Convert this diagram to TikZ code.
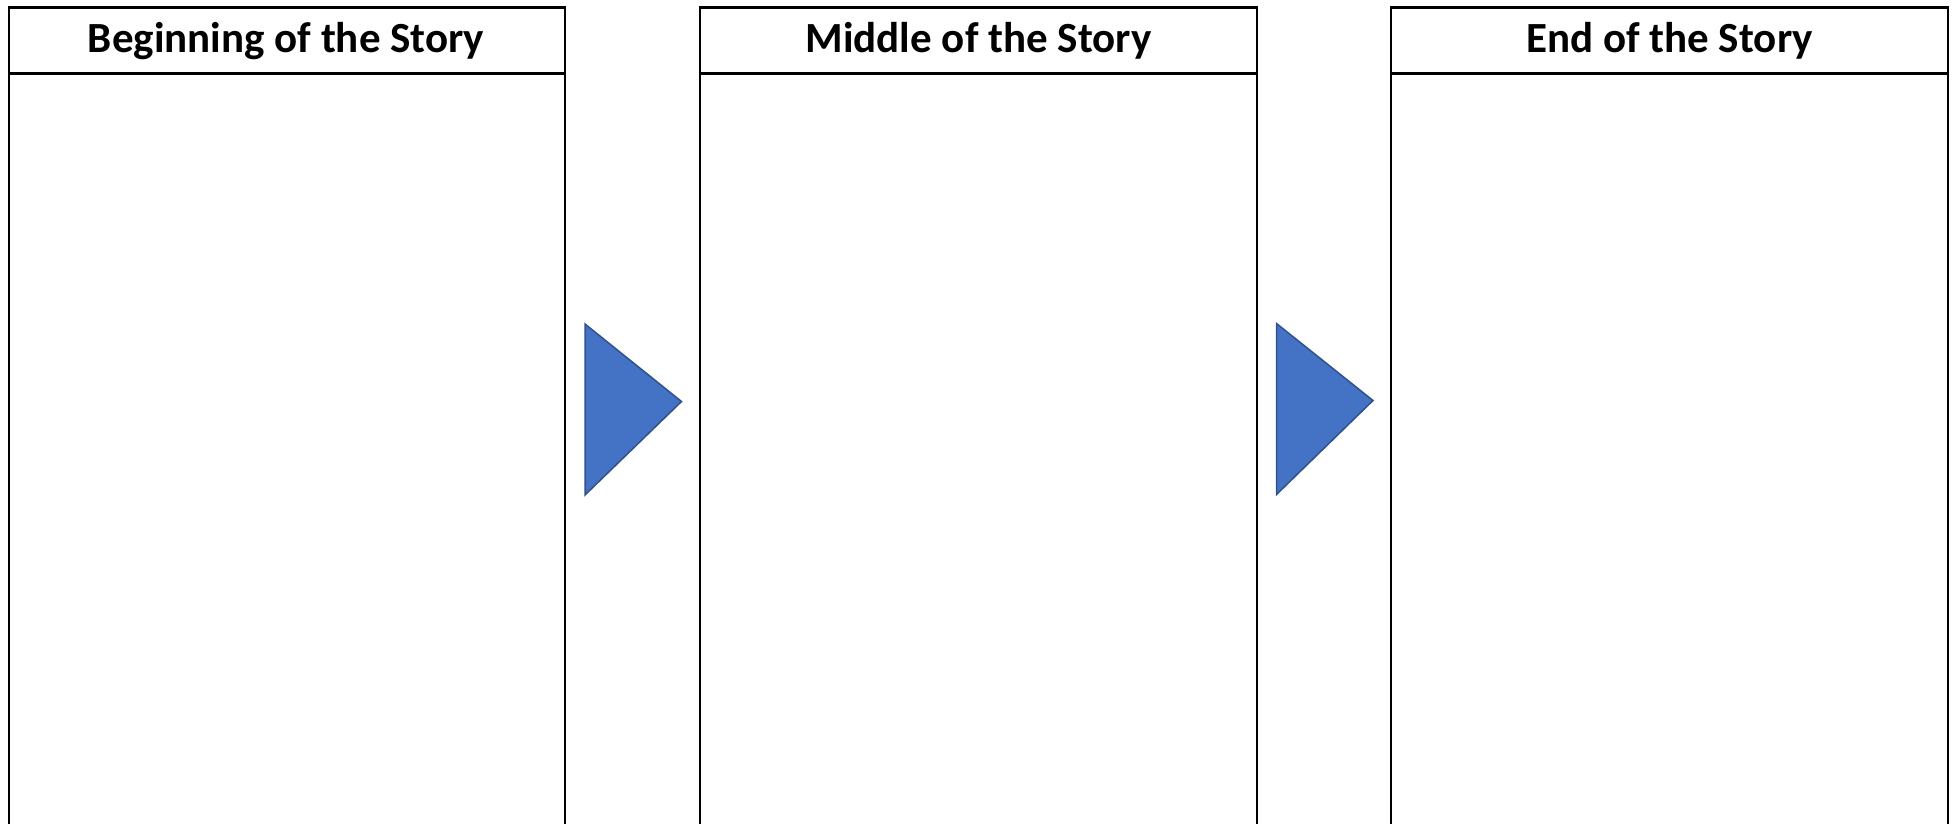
\documentclass[tikz,border=0pt]{standalone}
\usepackage{fontspec}
\setmainfont{Carlito}
\begin{document}
\begin{tikzpicture}[x=1pt,y=-1pt,
  panel/.style={draw=black,line width=2.2pt,fill=white},
  head/.style={font=\bfseries\fontsize{43}{48}\selectfont,text=black,anchor=base,inner sep=0pt},
  flow/.style={fill=arrowblue,draw=arrowedge,line width=1.5pt,line join=miter}]
\definecolor{arrowblue}{HTML}{4472C4}
\definecolor{arrowedge}{HTML}{2F528F}
\useasboundingbox (0,0) rectangle (1955,823);
\clip (0,0) rectangle (1955,823);
% panels
\draw[panel] (9,7.5) rectangle (565,840);
\draw[panel] (9,73.5) -- (565,73.5);
\draw[panel] (700,7.5) rectangle (1257,840);
\draw[panel] (700,73.5) -- (1257,73.5);
\draw[panel] (1391,7.5) rectangle (1948,840);
\draw[panel] (1391,73.5) -- (1948,73.5);
\node[head] (h1) at (286,52) {Beginning of the Story};
\node[head] (h2) at (978.5,52) {Middle of the Story};
\node[head] (h3) at (1669.5,52) {End of the Story};
% arrows
\draw[flow] (585,324) -- (681.5,401.5) -- (585,495) -- cycle;
\draw[flow] (1276.5,323.5) -- (1373,400.5) -- (1276.5,494.5) -- cycle;
\end{tikzpicture}
\end{document}
